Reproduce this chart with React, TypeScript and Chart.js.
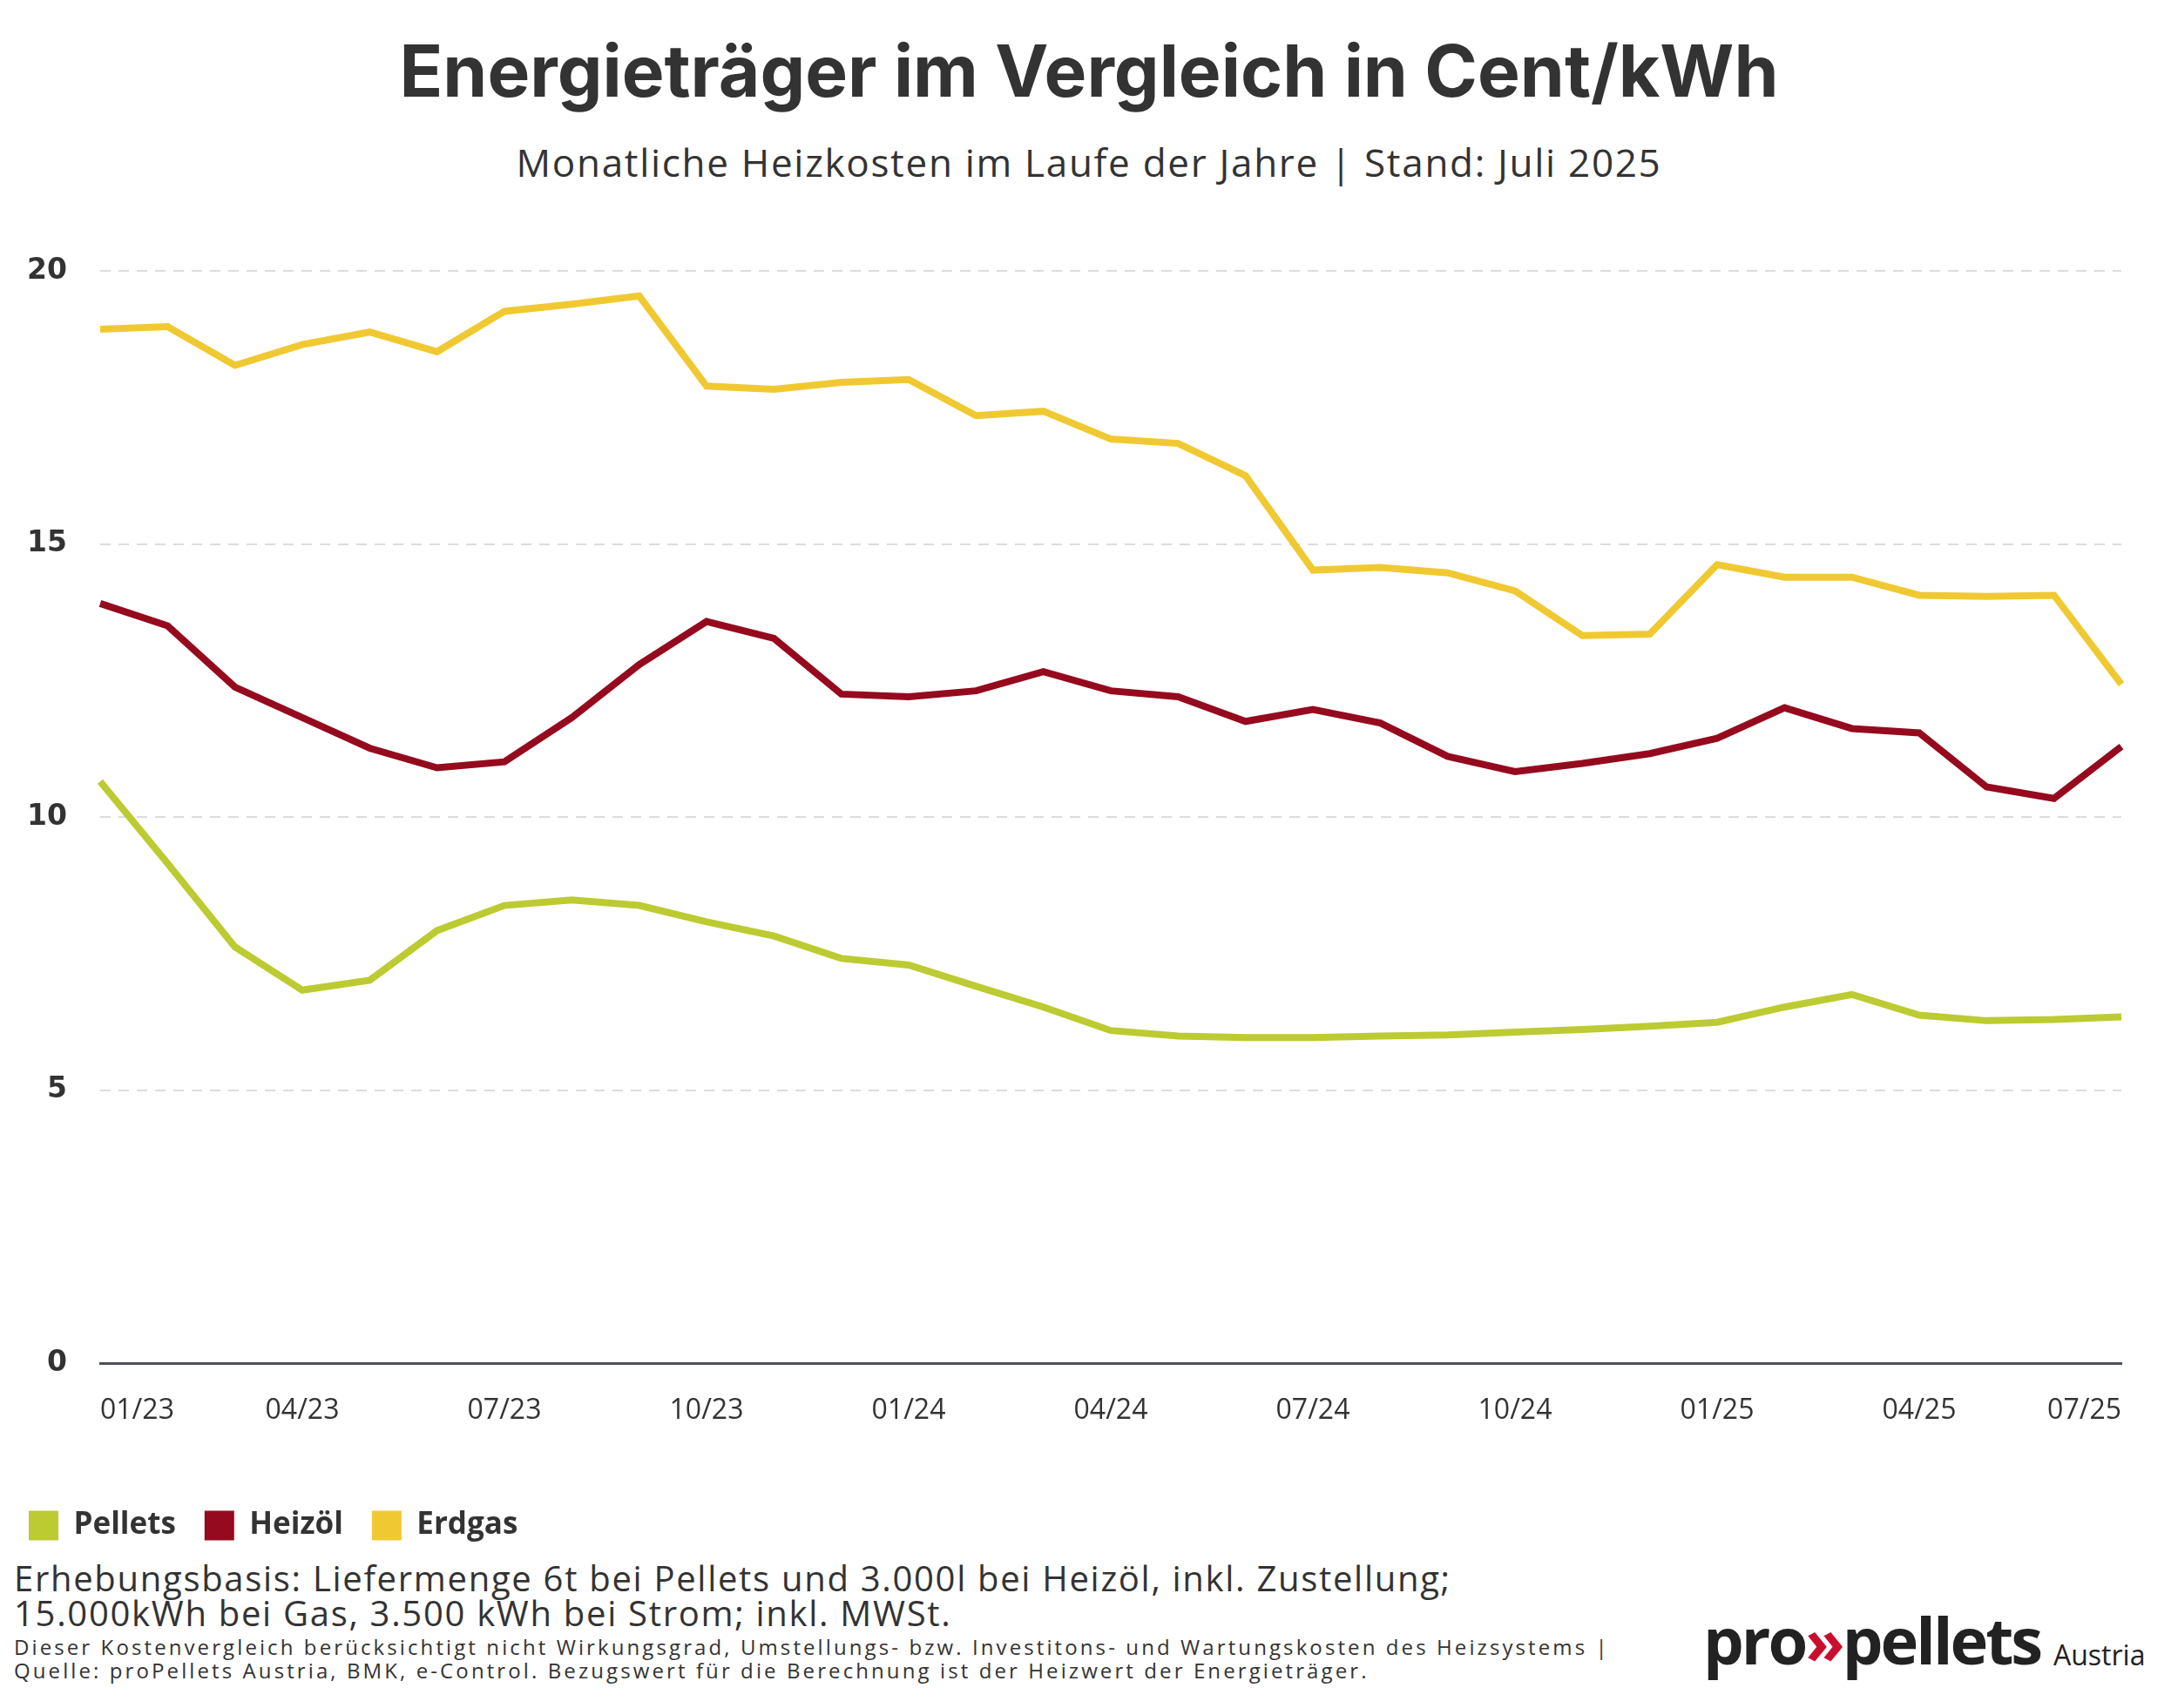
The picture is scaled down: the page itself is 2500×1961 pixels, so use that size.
import React, { useEffect, useRef } from 'react';
import { Chart, registerables } from 'chart.js';

Chart.register(...registerables);

const months = [
  '01/23', '02/23', '03/23', '04/23', '05/23', '06/23', '07/23', '08/23', '09/23', '10/23', '11/23', '12/23',
  '01/24', '02/24', '03/24', '04/24', '05/24', '06/24', '07/24', '08/24', '09/24', '10/24', '11/24', '12/24',
  '01/25', '02/25', '03/25', '04/25', '05/25', '06/25', '07/25',
];

const pellets = [
  10.65, 9.15, 7.62, 6.83, 7.01, 7.92, 8.38, 8.48, 8.38, 8.08, 7.82, 7.41,
  7.29, 6.9, 6.52, 6.09, 5.99, 5.96, 5.96, 5.99, 6.01, 6.06, 6.11, 6.17,
  6.24, 6.52, 6.75, 6.37, 6.27, 6.29, 6.34,
];

const heizoel = [
  13.91, 13.5, 12.38, 11.82, 11.26, 10.9, 11.01, 11.82, 12.79, 13.58, 13.27, 12.25,
  12.2, 12.31, 12.66, 12.31, 12.2, 11.75, 11.97, 11.72, 11.11, 10.83, 10.98, 11.16,
  11.44, 12.0, 11.62, 11.54, 10.55, 10.34, 11.29,
];

const erdgas = [
  18.93, 18.98, 18.27, 18.65, 18.88, 18.52, 19.26, 19.39, 19.54, 17.89, 17.83, 17.96,
  18.01, 17.35, 17.43, 16.92, 16.84, 16.25, 14.52, 14.57, 14.47, 14.14, 13.32, 13.35,
  14.62, 14.39, 14.39, 14.06, 14.04, 14.06, 12.43,
];

const seriesNames = ['Pellets', 'Heizöl', 'Erdgas'];
const seriesColors = ['#bccb31', '#950a1e', '#f0c932'];
const yTicks = [0, 5, 10, 15, 20];

const TEXT = '#333333';
const FONT = "'Open Sans', sans-serif";

export default function App() {
  const ref = useRef<HTMLCanvasElement>(null);

  useEffect(() => {
    document.body.style.margin = '0';
    const values = [pellets, heizoel, erdgas];
    const chart = new Chart(ref.current!, {
      type: 'line',
      data: {
        labels: months,
        datasets: seriesNames.map((name, i) => ({
          label: name,
          data: values[i],
          borderColor: seriesColors[i],
          backgroundColor: seriesColors[i],
          borderWidth: 8,
          pointRadius: 0,
          pointHoverRadius: 0,
          tension: 0,
          borderJoinStyle: 'miter' as const,
          fill: false,
        })),
      },
      options: {
        animation: false,
        responsive: true,
        maintainAspectRatio: false,
        devicePixelRatio: 1,
        layout: { padding: { top: 71, right: 65, bottom: 0, left: 0 } },
        plugins: {
          title: { display: false },
          tooltip: { enabled: false },
          legend: {
            display: true,
            position: 'bottom',
            align: 'start',
            labels: {
              boxWidth: 34,
              boxHeight: 34,
              padding: 33,
              color: TEXT,
              font: { family: FONT, size: 35, weight: 'bold' },
              generateLabels: (c: any) =>
                Chart.defaults.plugins.legend.labels.generateLabels(c).map((l: any) => ({ ...l, lineWidth: 0 })),
            },
          },
        },
        scales: {
          x: {
            type: 'category',
            offset: false,
            grid: { display: false, drawTicks: false },
            border: { display: true, color: '#4d4f5c', width: 3 },
            ticks: {
              autoSkip: false,
              maxRotation: 0,
              align: 'inner',
              padding: 36,
              color: TEXT,
              font: { family: FONT, size: 32, weight: '500' },
              callback: (_v: any, idx: number) => (idx % 3 === 0 ? months[idx] : ''),
            },
            afterFit: (s: any) => {
              s.height = 136;
            },
          },
          y: {
            min: 0,
            max: 20,
            afterBuildTicks: (s: any) => {
              s.ticks = yTicks.map((v) => ({ value: v }));
            },
            grid: { color: '#dcdcdc', lineWidth: 2, drawTicks: false },
            border: { display: false, dash: [12, 9] },
            ticks: {
              padding: 38,
              color: TEXT,
              font: { family: "'DejaVu Sans', sans-serif", size: 33, weight: 'bold' },
            },
            afterFit: (s: any) => {
              s.width = 115;
            },
          },
        },
      },
    });
    return () => chart.destroy();
  }, []);

  return (
    <div
      style={{
        position: 'absolute',
        left: 0,
        top: 0,
        width: 2500,
        height: 1961,
        background: '#ffffff',
        overflow: 'hidden',
        fontFamily: FONT,
        color: TEXT,
      }}
    >
      <div
        style={{
          position: 'absolute',
          left: 0,
          top: 41,
          width: 2500,
          textAlign: 'center',
          fontFamily: "'Inter', sans-serif",
          fontWeight: 700,
          fontSize: 82,
          lineHeight: '82px',
          whiteSpace: 'nowrap',
        }}
      >
        Energieträger im Vergleich in Cent/kWh
      </div>
      <div
        style={{
          position: 'absolute',
          left: 0,
          top: 164,
          width: 2500,
          textAlign: 'center',
          fontSize: 44,
          lineHeight: '44px',
          letterSpacing: '1.7px',
          whiteSpace: 'nowrap',
        }}
      >
        Monatliche Heizkosten im Laufe der Jahre | Stand: Juli 2025
      </div>
      <div style={{ position: 'absolute', left: 0, top: 240, width: 2500, height: 1539 }}>
        <canvas ref={ref} />
      </div>
      <div
        style={{
          position: 'absolute',
          left: 16,
          top: 1792,
          fontSize: 40,
          lineHeight: '40px',
          letterSpacing: '1.7px',
          whiteSpace: 'nowrap',
        }}
      >
        <div>Erhebungsbasis: Liefermenge 6t bei Pellets und 3.000l bei Heizöl, inkl. Zustellung;</div>
        <div>15.000kWh bei Gas, 3.500 kWh bei Strom; inkl. MWSt.</div>
      </div>
      <div
        style={{
          position: 'absolute',
          left: 16,
          top: 1877,
          fontSize: 24,
          lineHeight: '27px',
          letterSpacing: '3.1px',
          whiteSpace: 'nowrap',
        }}
      >
        <div>
          Dieser Kostenvergleich berücksichtigt nicht Wirkungsgrad, Umstellungs- bzw. Investitons- und Wartungskosten des
          Heizsystems |
        </div>
        <div>Quelle: proPellets Austria, BMK, e-Control. Bezugswert für die Berechnung ist der Heizwert der Energieträger.</div>
      </div>
      <div
        style={{
          position: 'absolute',
          left: 1955,
          top: 1846,
          fontWeight: 700,
          fontSize: 74,
          lineHeight: '74px',
          letterSpacing: '-3px',
          whiteSpace: 'nowrap',
          color: '#222222',
        }}
      >
        pro<span style={{ color: '#c8102e' }}>»</span>pellets
      </div>
      <div
        style={{
          position: 'absolute',
          left: 2357,
          top: 1884,
          fontSize: 32,
          lineHeight: '32px',
          whiteSpace: 'nowrap',
          color: '#222222',
        }}
      >
        Austria
      </div>
    </div>
  );
}
